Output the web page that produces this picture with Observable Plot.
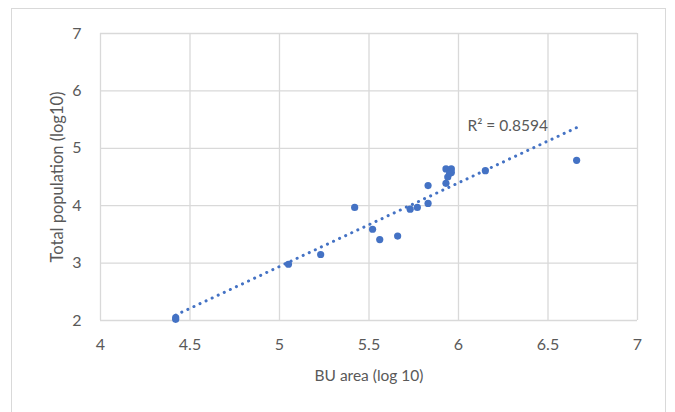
<!DOCTYPE html>
<html>
<head>
<meta charset="utf-8">
<script src="https://cdn.jsdelivr.net/npm/d3@7"></script>
<script src="https://cdn.jsdelivr.net/npm/@observablehq/plot@0.6"></script>
<style>
  html, body { margin: 0; padding: 0; background: #fff; width: 675px; height: 412px; overflow: hidden; }
  #frame { position: absolute; left: 11px; top: 8px; width: 655px; height: 430px; border: 1px solid #d9d9d9; box-sizing: border-box; }
  #chart { position: absolute; left: 0; top: 0; }
</style>
</head>
<body>
<div id="frame"></div>
<div id="chart"></div>
<script>
// BU area (log10) values
const buArea = [4.42, 4.42, 5.05, 5.23, 5.42, 5.52, 5.56, 5.66, 5.73, 5.77, 5.83, 5.83, 5.93, 5.94, 5.93, 5.96, 5.96, 5.95, 6.15, 6.66];
// Total population (log10) values
const population = [2.02, 2.05, 2.98, 3.15, 3.97, 3.59, 3.41, 3.47, 3.94, 3.97, 4.04, 4.35, 4.39, 4.50, 4.64, 4.64, 4.58, 4.56, 4.61, 4.79];
const xTicks = [4, 4.5, 5, 5.5, 6, 6.5, 7];
const yTicks = [2, 3, 4, 5, 6, 7];
const xTitle = ["BU area (log 10)"];
const yTitle = ["Total population (log10)"];
const r2Label = ["R² = 0.8594"];

const data = buArea.map((x, i) => ({x, y: population[i]}));
const blue = "#4472c4";
const grey = "#595959";

const chart = Plot.plot({
  width: 675,
  height: 412,
  marginLeft: 100,
  marginRight: 38,
  marginTop: 33,
  marginBottom: 92,
  style: {fontFamily: "Lato, 'Open Sans', sans-serif", fontSize: "16px", color: grey, background: "transparent"},
  x: {domain: [4, 7], ticks: xTicks, tickSize: 0, tickPadding: 18, tickFormat: d => String(d), label: null},
  y: {domain: [2, 7], ticks: yTicks, tickSize: 0, tickPadding: 19, tickFormat: d => String(d), label: null},
  marks: [
    Plot.gridX(xTicks, {stroke: "#d9d9d9", strokeOpacity: 1, strokeWidth: 1.3}),
    Plot.gridY(yTicks, {stroke: "#d9d9d9", strokeOpacity: 1, strokeWidth: 1.3}),
    Plot.linearRegressionY(data, {x: "x", y: "y", ci: 0, stroke: blue, strokeWidth: 3, strokeDasharray: "0.1 6.6", strokeLinecap: "round"}),
    Plot.dot(data, {x: "x", y: "y", r: 3.6, fill: blue, stroke: "none"}),
    Plot.text(r2Label, {x: 6.05, y: 5.38, text: d => d, textAnchor: "start", fill: grey, fontSize: 15.5}),
    Plot.text(xTitle, {frameAnchor: "bottom", dy: 60, text: d => d, fill: grey, fontSize: 15.5}),
    Plot.text(yTitle, {frameAnchor: "left", dx: -43, rotate: -90, textAnchor: "middle", lineAnchor: "middle", text: d => d, fill: grey, fontSize: 16.5})
  ]
});
document.getElementById("chart").appendChild(chart);
</script>
</body>
</html>
